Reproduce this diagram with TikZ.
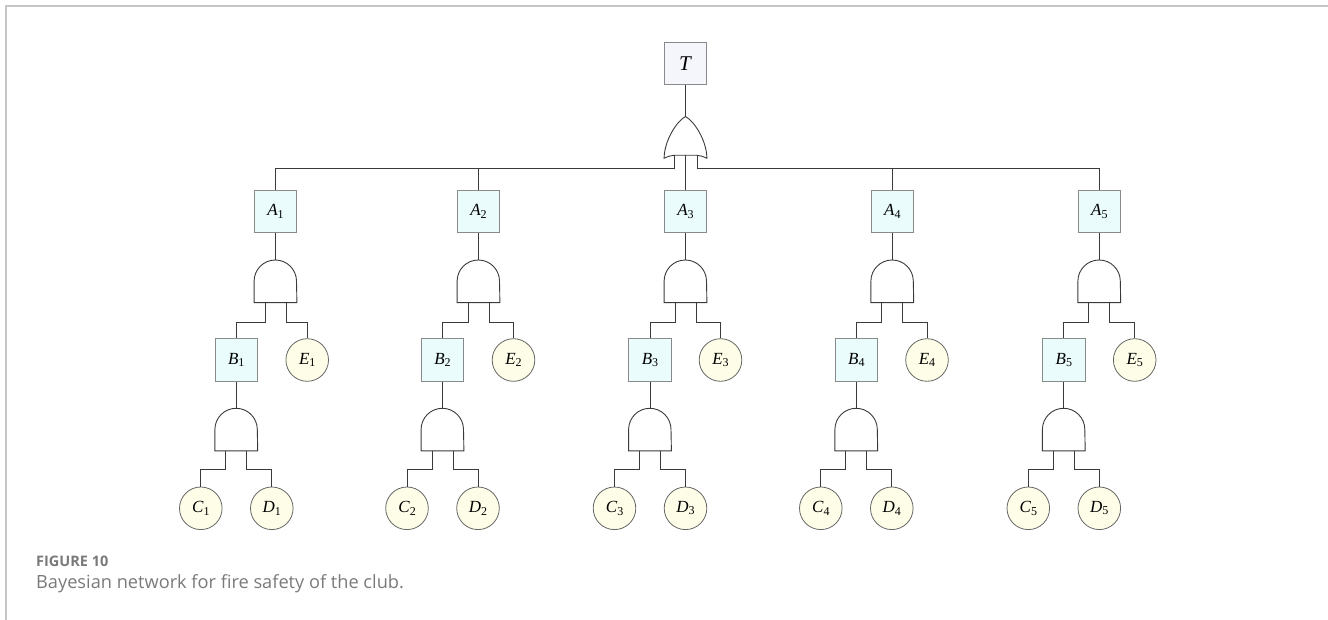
\documentclass[tikz,border=0pt]{standalone}
\usepackage{fontspec}
\setmainfont{Liberation Serif}
\newfontfamily\capfont{Open Sans}
\usetikzlibrary{calc}

\definecolor{framegray}{HTML}{C6C6C6}
\definecolor{wirecol}{HTML}{3A3A3A}
\definecolor{boxedge}{HTML}{8A8A8A}
\definecolor{topfill}{HTML}{F5F5FC}
\definecolor{boxfill}{HTML}{EAFCFC}
\definecolor{evtfill}{HTML}{FDFDE8}
\definecolor{evtedge}{HTML}{666666}
\definecolor{capgray}{HTML}{7A7A7A}

% italic letter with a small upright, lowered index
\newcommand\lbl[2]{\textit{#1}\raisebox{-0.3ex}{\fontsize{12pt}{13pt}\selectfont #2}}
% US-style AND gate drawn on an invisible box node
\newcommand\andshape[1]{\draw[gateline] (#1.south west) -- (#1.west) arc[start angle=180,end angle=0,radius=21.2pt] -- (#1.south east) -- cycle;}

\begin{document}
\begin{tikzpicture}[x=1pt,y=-1pt,
  wire/.style={draw=wirecol, line width=0.9pt},
  gateline/.style={draw=wirecol, line width=0.9pt},
  labelfont/.style={font=\fontsize{17pt}{19pt}\selectfont},
  topbox/.style={draw=boxedge, fill=topfill, line width=0.8pt, minimum size=42.4pt, inner sep=0pt, font=\fontsize{21pt}{24pt}\selectfont},
  abox/.style={draw=boxedge, fill=boxfill, line width=0.8pt, minimum size=42.4pt, inner sep=0pt, labelfont},
  evt/.style={circle, draw=evtedge, fill=evtfill, line width=0.8pt, minimum size=42.6pt, inner sep=0pt, labelfont},
  gatebox/.style={rectangle, draw=none, minimum width=42.4pt, minimum height=42.4pt, inner sep=0pt},
  captext/.style={anchor=base west, text=capgray, inner sep=0pt}
]
\useasboundingbox (0,0) rectangle (1328,620);

% page frame
\draw[framegray, line width=1.3pt] (6,621) -- (6,6) -- (1329,6);

% top event and OR gate
\node[topbox] (T) at (685.5,63.2) {\textit{T}};
\node[gatebox, minimum height=41.4pt] (or) at (685.5,137.4) {};
\draw[gateline] (or.north)
  .. controls ($(or.north)+(-9,5)$) and ($(or.south west)+(0.3,-18)$) .. (or.south west)
  .. controls ($(or.south west)+(8,-4)$) and ($(or.south)+(-10,-3)$) .. ($(or.south)+(0,-3)$)
  .. controls ($(or.south)+(10,-3)$) and ($(or.south east)+(-8,-4)$) .. (or.south east)
  .. controls ($(or.south east)+(-0.3,-18)$) and ($(or.north)+(9,5)$) .. (or.north) -- cycle;
\draw[wire] (T.south) -- (or.north);

% five branches
\foreach \i/\ax/\bx/\ex in {1/275.5/236.3/307.2, 2/478.5/442.5/513.5, 3/685.5/650/720.5, 4/892.3/856.3/927, 5/1099.3/1063.8/1134.7} {
  \node[abox] (A\i) at (\ax,211.5) {\lbl{A}{\i}};
  \node[gatebox] (GA\i) at (\ax,281.2) {};
  \andshape{GA\i}
  \node[abox] (B\i) at (\bx,360) {\lbl{B}{\i}};
  \node[evt] (E\i) at (\ex,360) {\lbl{E}{\i}};
  \node[gatebox] (GB\i) at (\bx,429.5) {};
  \andshape{GB\i}
  \node[evt] (C\i) at (\bx-35.5,508.3) {\lbl{C}{\i}};
  \node[evt] (D\i) at (\bx+35.5,508.3) {\lbl{D}{\i}};

  \draw[wire] (A\i.south) -- (GA\i.north);
  \draw[wire] ([xshift=-10.5pt]GA\i.south) |- ([yshift=16.3pt]B\i.north) -- (B\i.north);
  \draw[wire] ([xshift=10.5pt]GA\i.south) |- ([yshift=16.3pt]E\i.north) -- (E\i.north);
  \draw[wire] (B\i.south) -- (GB\i.north);
  \draw[wire] ([xshift=-10.5pt]GB\i.south) |- ([yshift=17.3pt]C\i.north) -- (C\i.north);
  \draw[wire] ([xshift=10.5pt]GB\i.south) |- ([yshift=17.3pt]D\i.north) -- (D\i.north);
}

% OR gate outputs to the A events
\draw[wire] ([xshift=-11.5pt,yshift=2.8pt]or.south) |- ([yshift=21pt]A1.north) -- (A1.north);
\draw[wire] (A2.north) -- ([yshift=21pt]A2.north);
\draw[wire] ([yshift=2.8pt]or.south) -- (A3.north);
\draw[wire] (A4.north) -- ([yshift=21pt]A4.north);
\draw[wire] ([xshift=11.5pt,yshift=2.8pt]or.south) |- ([yshift=21pt]A5.north) -- (A5.north);

% caption
\node[captext, font=\capfont\bfseries\fontsize{14.5pt}{17pt}\selectfont] (figno) at (36,566.7) {FIGURE 10};
\node[captext, font=\capfont\fontsize{18.2pt}{21pt}\selectfont] (cap) at (36,588.5) {Bayesian network for fire safety of the club.};
\end{tikzpicture}
\end{document}
